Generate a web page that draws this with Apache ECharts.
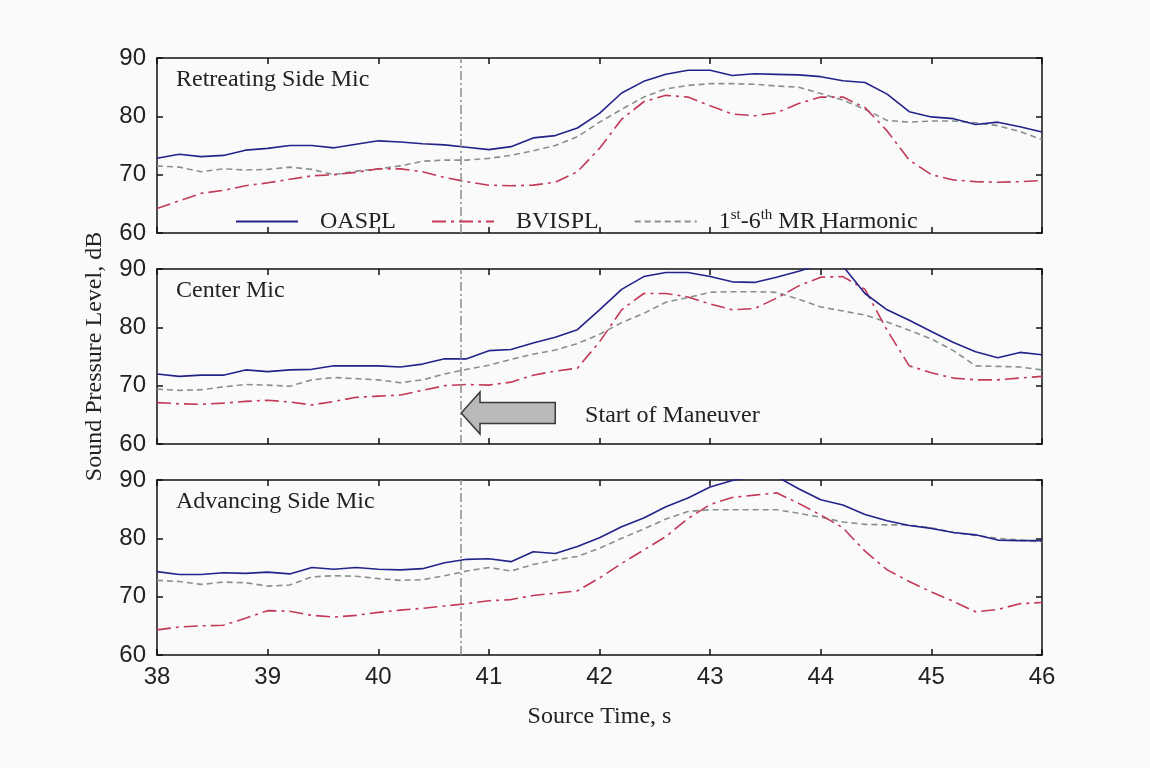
<!DOCTYPE html>
<html>
<head>
<meta charset="utf-8">
<title>Sound Pressure Level</title>
<script src="https://cdn.jsdelivr.net/npm/echarts@6/dist/echarts.min.js"></script>
<style>
  html, body { margin: 0; padding: 0; background: #fafafa; }
  #chart { width: 1150px; height: 768px; }
</style>
</head>
<body>
<div id="chart"></div>
<script>
// source time, s
const times = [38.0, 38.2, 38.4, 38.6, 38.8, 39.0, 39.2, 39.4, 39.6, 39.8,
  40.0, 40.2, 40.4, 40.6, 40.8, 41.0, 41.2, 41.4, 41.6, 41.8,
  42.0, 42.2, 42.4, 42.6, 42.8, 43.0, 43.2, 43.4, 43.6, 43.8,
  44.0, 44.2, 44.4, 44.6, 44.8, 45.0, 45.2, 45.4, 45.6, 45.8, 46.0]

// Retreating Side Mic, dB
const retOASPL = [72.8, 73.5, 73.1, 73.3, 74.2, 74.5, 75.0, 75.0, 74.6, 75.2,
  75.8, 75.6, 75.3, 75.1, 74.7, 74.3, 74.8, 76.3, 76.7, 78.0,
  80.5, 84.0, 86.0, 87.2, 87.9, 87.9, 87.0, 87.3, 87.2, 87.1,
  86.8, 86.1, 85.8, 83.8, 80.8, 79.9, 79.6, 78.6, 79.0, 78.2, 77.3]
const retBVISPL = [64.2, 65.5, 66.8, 67.3, 68.1, 68.6, 69.2, 69.8, 70.0, 70.4,
  71.0, 71.0, 70.5, 69.5, 68.8, 68.2, 68.1, 68.2, 68.7, 70.5,
  74.5, 79.5, 82.5, 83.6, 83.3, 81.8, 80.4, 80.1, 80.6, 82.2,
  83.3, 83.3, 81.5, 77.5, 72.5, 70.0, 69.1, 68.8, 68.7, 68.8, 69.0]
const retHarm = [71.5, 71.3, 70.5, 71.0, 70.8, 70.9, 71.3, 70.9, 70.0, 70.6,
  71.0, 71.5, 72.3, 72.5, 72.5, 72.8, 73.3, 74.1, 75.0, 76.5,
  79.0, 81.2, 83.3, 84.7, 85.3, 85.6, 85.6, 85.5, 85.2, 85.0,
  83.9, 82.8, 81.2, 79.3, 79.0, 79.2, 79.2, 78.9, 78.4, 77.4, 76.0]

// Center Mic, dB
const cenOASPL = [72.0, 71.6, 71.8, 71.8, 72.7, 72.4, 72.7, 72.8, 73.4, 73.4,
  73.4, 73.2, 73.7, 74.6, 74.6, 76.0, 76.2, 77.3, 78.3, 79.6,
  83.0, 86.5, 88.7, 89.4, 89.4, 88.7, 87.8, 87.7, 88.6, 89.6,
  90.8, 90.5, 85.8, 83.0, 81.2, 79.3, 77.4, 75.8, 74.8, 75.7, 75.3]
const cenBVISPL = [67.1, 66.9, 66.8, 67.0, 67.3, 67.5, 67.2, 66.7, 67.3, 68.0,
  68.2, 68.4, 69.2, 70.0, 70.2, 70.1, 70.6, 71.8, 72.5, 73.0,
  77.5, 83.0, 85.8, 85.8, 85.2, 84.0, 83.0, 83.2, 85.0, 87.1,
  88.6, 88.7, 86.5, 79.5, 73.4, 72.2, 71.3, 71.0, 71.0, 71.3, 71.6]
const cenHarm = [69.4, 69.2, 69.3, 69.8, 70.2, 70.1, 69.9, 71.0, 71.4, 71.2,
  71.0, 70.5, 71.0, 72.0, 72.8, 73.5, 74.5, 75.4, 76.1, 77.2,
  78.8, 80.8, 82.4, 84.3, 85.1, 86.0, 86.1, 86.1, 86.0, 84.8,
  83.5, 82.8, 82.1, 80.9, 79.5, 78.0, 76.0, 73.4, 73.3, 73.2, 72.7]

// Advancing Side Mic, dB
const advOASPL = [74.3, 73.8, 73.8, 74.1, 74.0, 74.2, 73.9, 75.0, 74.7, 75.0,
  74.7, 74.6, 74.8, 75.8, 76.4, 76.5, 76.0, 77.7, 77.4, 78.6,
  80.1, 82.0, 83.5, 85.4, 86.9, 88.8, 89.9, 90.6, 90.6, 88.5,
  86.6, 85.7, 84.1, 83.0, 82.2, 81.7, 81.0, 80.6, 79.7, 79.6, 79.6]
const advBVISPL = [64.3, 64.8, 65.0, 65.1, 66.3, 67.6, 67.5, 66.8, 66.5, 66.8,
  67.3, 67.7, 68.0, 68.4, 68.8, 69.3, 69.5, 70.2, 70.6, 71.0,
  73.2, 75.7, 78.0, 80.3, 83.4, 85.8, 87.0, 87.4, 87.8, 86.0,
  84.0, 81.8, 77.8, 74.6, 72.6, 70.8, 69.2, 67.4, 67.8, 68.8, 69.0]
const advHarm = [72.8, 72.6, 72.1, 72.5, 72.4, 71.8, 72.0, 73.4, 73.6, 73.5,
  73.1, 72.8, 72.9, 73.6, 74.4, 75.0, 74.4, 75.5, 76.3, 76.9,
  78.3, 80.0, 81.6, 83.3, 84.6, 84.9, 84.9, 84.9, 84.9, 84.3,
  83.6, 82.8, 82.4, 82.3, 82.3, 81.8, 81.0, 80.5, 80.0, 79.7, 79.4]

const panelNames = ['Retreating Side Mic', 'Center Mic', 'Advancing Side Mic']
const panelData = [
  [retOASPL, retBVISPL, retHarm],
  [cenOASPL, cenBVISPL, cenHarm],
  [advOASPL, advBVISPL, advHarm]
]
const seriesNames = ['OASPL', 'BVISPL', '1st-6th MR Harmonic']
const xTicks = [38, 46, 1]
const yTicks = [60, 90, 10]
const maneuverStart = 40.75

// block arrow in the Center Mic panel (time, dB)
const arrowTip = [40.75, 65.3]
const arrowHeadBase = 40.92
const arrowTail = 41.6
const arrowShaftHalf = 1.8
const arrowHeadHalf = 3.6
const arrowLabelAt = [41.87, 64.9]

const serif = 'Liberation Serif, Times New Roman, serif'
const sans = 'Liberation Sans, Arial, sans-serif'
const lineColors = ['#23238a', '#c23a58', '#86918c']
const lineTypes = ['solid', [14, 5, 3, 5], [6, 4]]
const gridTops = [58, 269, 480]
const gridHeight = 175

const chart = echarts.init(document.getElementById('chart'))

const grids = []
const xAxes = []
const yAxes = []
const series = []
const titles = []
const frame = { show: true, lineStyle: { color: '#111', width: 1.5 } }
const tick = { show: true, inside: true, length: 6, lineStyle: { color: '#111', width: 1.5 } }

panelNames.forEach((title, i) => {
  grids.push({ left: 157, right: 108, top: gridTops[i], height: gridHeight })
  titles.push({
    text: title, left: 171, top: gridTops[i] + 5,
    textStyle: { fontFamily: serif, fontSize: 24, fontWeight: 'normal', color: '#222' }
  })
  const xBase = {
    gridIndex: i, type: 'value', min: xTicks[0], max: xTicks[1], interval: xTicks[2],
    axisLine: frame, axisTick: tick, splitLine: { show: false }
  }
  xAxes.push(Object.assign({}, xBase, {
    position: 'bottom',
    axisLabel: { show: i === 2, fontFamily: sans, fontSize: 24, color: '#222', margin: 10 },
    name: i === 2 ? 'Source Time, s' : '',
    nameLocation: 'middle', nameGap: 50,
    nameTextStyle: { fontFamily: serif, fontSize: 24, color: '#222' }
  }))
  xAxes.push(Object.assign({}, xBase, { position: 'top', axisLabel: { show: false } }))
  const yBase = {
    gridIndex: i, type: 'value', min: yTicks[0], max: yTicks[1], interval: yTicks[2],
    axisLine: frame, axisTick: tick, splitLine: { show: false }
  }
  yAxes.push(Object.assign({}, yBase, {
    position: 'left',
    axisLabel: { fontFamily: sans, fontSize: 24, color: '#222', margin: 11 },
    name: i === 1 ? 'Sound Pressure Level, dB' : '',
    nameLocation: 'middle', nameGap: 50, nameRotate: 90,
    nameTextStyle: { fontFamily: serif, fontSize: 24, color: '#222' }
  }))
  yAxes.push(Object.assign({}, yBase, { position: 'right', axisLabel: { show: false } }))

  panelData[i].forEach((vals, k) => {
    const s = {
      name: seriesNames[k],
      type: 'line',
      xAxisIndex: i * 2,
      yAxisIndex: i * 2,
      data: times.map((t, j) => [t, vals[j]]),
      symbol: 'none',
      clip: true,
      itemStyle: { color: lineColors[k] },
      lineStyle: { color: lineColors[k], width: 1.6, type: lineTypes[k] },
      z: 3 - k
    }
    if (k === 0) {
      s.markLine = {
        silent: true,
        symbol: 'none',
        label: { show: false },
        lineStyle: { color: '#8c8c8c', width: 1.5, type: [9, 3, 2, 3] },
        data: [{ xAxis: maneuverStart }]
      }
    }
    series.push(s)
  })
})

chart.setOption({
  backgroundColor: '#fafafa',
  animation: false,
  title: titles,
  grid: grids,
  xAxis: xAxes,
  yAxis: yAxes,
  legend: {
    data: seriesNames,
    left: 230,
    top: 203,
    itemWidth: 62,
    itemHeight: 14,
    itemGap: 35,
    itemStyle: { opacity: 0, borderWidth: 0 }, // line sample only, no marker
    textStyle: {
      fontFamily: serif, fontSize: 24, color: '#222', padding: [0, 0, 0, 17],
      rich: {
        n: { fontFamily: serif, fontSize: 24, color: '#222' },
        s: { fontFamily: serif, fontSize: 15, color: '#222', padding: [0, 0, 12, 0] }
      }
    },
    formatter: function (name) {
      if (name === seriesNames[2]) {
        return '{n|1}{s|st}{n|-6}{s|th}{n| MR Harmonic}'
      }
      return name
    }
  },
  series: series
})

// arrow + label in the Center Mic panel
const finder = { xAxisIndex: 2, yAxisIndex: 2 }
const px = p => chart.convertToPixel(finder, p)
const arrowPts = [
  px(arrowTip),
  px([arrowHeadBase, arrowTip[1] + arrowHeadHalf]),
  px([arrowHeadBase, arrowTip[1] + arrowShaftHalf]),
  px([arrowTail, arrowTip[1] + arrowShaftHalf]),
  px([arrowTail, arrowTip[1] - arrowShaftHalf]),
  px([arrowHeadBase, arrowTip[1] - arrowShaftHalf]),
  px([arrowHeadBase, arrowTip[1] - arrowHeadHalf])
]
const labelPt = px(arrowLabelAt)
chart.setOption({
  graphic: [
    {
      type: 'polygon',
      shape: { points: arrowPts },
      style: { fill: '#b9b9b9', stroke: '#3a3a3a', lineWidth: 1.5 },
      z: 10
    },
    {
      type: 'text',
      x: labelPt[0],
      y: labelPt[1],
      style: {
        text: 'Start of Maneuver', fontFamily: serif, fontSize: 24, fill: '#222',
        textAlign: 'left', textVerticalAlign: 'middle'
      },
      z: 10
    }
  ]
})
</script>
</body>
</html>
